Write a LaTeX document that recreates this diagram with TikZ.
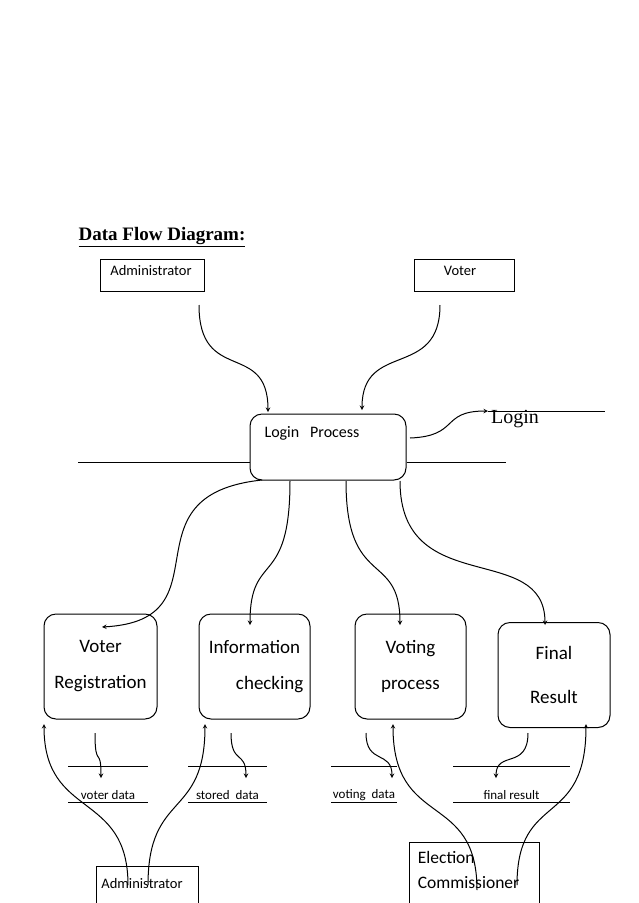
\documentclass[tikz,border=0pt]{standalone}
\usepackage{fontspec}
\setmainfont{Carlito}
\newfontfamily\tnr{Liberation Serif}
\usepackage{tikz}
\usetikzlibrary{arrows}
\tikzstyle{extNode} = [rectangle, draw=black, inner sep=0pt]
\tikzstyle{procNode} = [rectangle, rounded corners=12pt, draw=black, inner sep=0pt, font=\fontsize{19}{36}\selectfont, align=center]
\tikzstyle{storeText} = [font=\fontsize{13}{15}\selectfont]
\tikzstyle{arrow} = [->,>=stealth]

\begin{document}
\begin{tikzpicture}[x=1pt,y=-1pt,line width=1pt]
        \useasboundingbox (0,0) rectangle (638,903);
        \node at (162,237) {\tnr\fontsize{19}{22}\selectfont\bfseries\underline{Data Flow Diagram:}};
        % external entities
        \node (admin) [extNode, minimum width=104pt, minimum height=32pt] at (152,275) {};
        \node at (151,271) [font=\fontsize{14.5}{16}\selectfont] {Administrator};
        \node (voter) [extNode, minimum width=100pt, minimum height=32pt] at (464,275) {};
        \node at (460,271) [font=\fontsize{14.5}{16}\selectfont] {Voter};
        % login process
        \node (login) [procNode, minimum width=156pt, minimum height=66pt] at (328,447) {};
        \node at (312,433) [font=\fontsize{16}{18}\selectfont] {Login\ \ \ Process};
        \draw (78,462) -- (login.west |- 0,462);
        \draw (login.east |- 0,462) -- (506,462);
        \coordinate (loginOut) at (488,411);
        \draw [arrow] (410,438) .. controls (460,436) and (440,411) .. (loginOut);
        \draw (loginOut) -- (605,411);
        \node at (515,419) {\tnr\fontsize{20}{22}\selectfont Login};
        \draw [arrow] (199,305) .. controls (199,385) and (268,340) .. (268,412);
        \draw [arrow] (440,305) .. controls (440,380) and (362,340) .. (362,410);
        % processes
        \node (reg) [procNode, minimum width=113pt, minimum height=105pt] at (100.5,666.5) {Voter\\Registration};
        \node (info) [procNode, minimum width=111pt, minimum height=105pt] at (254.5,666.5) {Information\\\hspace*{1.6em}checking};
        \node (vote) [procNode, minimum width=111pt, minimum height=105pt] at (410.5,666.5) {Voting\\process};
        \node (final) [procNode, minimum width=112pt, minimum height=105pt, font=\fontsize{19}{44}\selectfont] at (554,675) {Final\\Result};
        \draw [arrow] (262,480) .. controls (120,495) and (230,620) .. (102,627);
        \draw [arrow] (290,481) .. controls (290,590) and (250,550) .. (250,625);
        \draw [arrow] (346,481) .. controls (346,590) and (400,550) .. (400,625);
        \draw [arrow] (400,481) .. controls (400,600) and (545,540) .. (545,625);
        % data stores
        \foreach \xa/\xb/\lbl in {68/148/voter data, 188/267/stored\ \ data, 331/397/voting\ \ data, 453/570/final result}{
            \draw (\xa,766) -- (\xb,766);
            \draw (\xa,802) -- (\xb,802);
            \node [storeText] at ({(\xa+\xb)/2},795) {\lbl};
        }
        \draw [arrow] (95,733) .. controls (95,770) and (101,745) .. (101,778);
        \draw [arrow] (231,733) .. controls (231,765) and (246,750) .. (246,778);
        \draw [arrow] (366,733) .. controls (366,765) and (392,750) .. (392,778);
        \draw [arrow] (528,733) .. controls (528,770) and (496,750) .. (496,778);
        % bottom entities
        \node (admin2) [extNode, minimum width=102pt, minimum height=40pt] at (147,886) {};
        \node at (142,884) [font=\fontsize{14.5}{16}\selectfont] {Administrator};
        \node (ec) [extNode, minimum width=130pt, minimum height=62pt] at (474,873) {};
        \node at (414,870) [anchor=west, align=left, font=\fontsize{17.5}{25}\selectfont] {Election\\Commissioner};
        \draw [arrow] (128,885) .. controls (128,790) and (44,820) .. (44,724);
        \draw [arrow] (148,885) .. controls (148,790) and (205,820) .. (205,724);
        \draw [arrow] (477,890) .. controls (477,790) and (393,830) .. (393,724);
        \draw [arrow] (517,885) .. controls (517,790) and (586,830) .. (586,724);
    \end{tikzpicture}
\end{document}
